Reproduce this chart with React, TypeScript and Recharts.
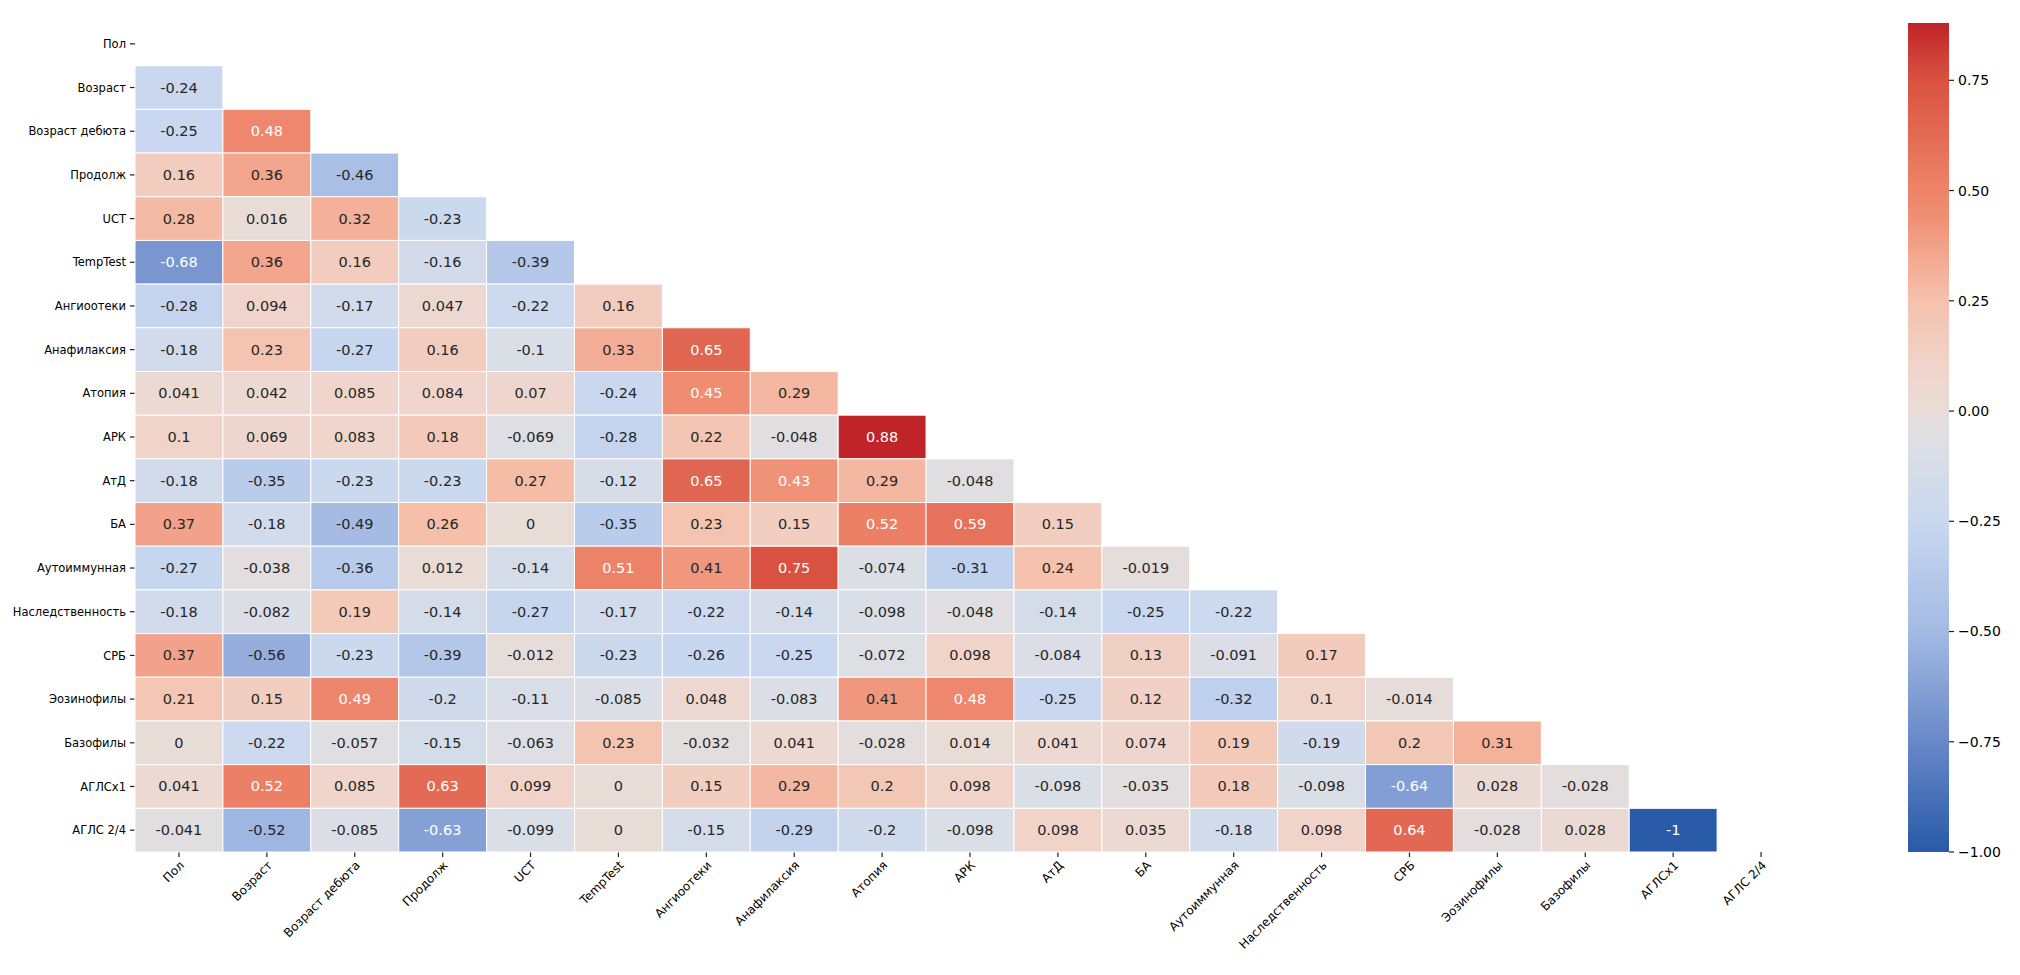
import React from 'react';
import { ScatterChart, Scatter, BarChart, Bar, XAxis, YAxis } from 'recharts';

// variable names, top to bottom / left to right
const LABELS = [
  'Пол', 'Возраст', 'Возраст дебюта', 'Продолж', 'UCT', 'TempTest', 'Ангиоотеки',
  'Анафилаксия', 'Атопия', 'АРК', 'АтД', 'БА', 'Аутоиммунная', 'Наследственность',
  'СРБ', 'Эозинофилы', 'Базофилы', 'АГЛСх1', 'АГЛС 2/4',
];

// lower triangle of the correlation matrix, row by row (diagonal masked)
const CORR: number[][] = [
  [],
  [-0.24],
  [-0.25, 0.48],
  [0.16, 0.36, -0.46],
  [0.28, 0.016, 0.32, -0.23],
  [-0.68, 0.36, 0.16, -0.16, -0.39],
  [-0.28, 0.094, -0.17, 0.047, -0.22, 0.16],
  [-0.18, 0.23, -0.27, 0.16, -0.1, 0.33, 0.65],
  [0.041, 0.042, 0.085, 0.084, 0.07, -0.24, 0.45, 0.29],
  [0.1, 0.069, 0.083, 0.18, -0.069, -0.28, 0.22, -0.048, 0.88],
  [-0.18, -0.35, -0.23, -0.23, 0.27, -0.12, 0.65, 0.43, 0.29, -0.048],
  [0.37, -0.18, -0.49, 0.26, 0, -0.35, 0.23, 0.15, 0.52, 0.59, 0.15],
  [-0.27, -0.038, -0.36, 0.012, -0.14, 0.51, 0.41, 0.75, -0.074, -0.31, 0.24, -0.019],
  [-0.18, -0.082, 0.19, -0.14, -0.27, -0.17, -0.22, -0.14, -0.098, -0.048, -0.14, -0.25, -0.22],
  [0.37, -0.56, -0.23, -0.39, -0.012, -0.23, -0.26, -0.25, -0.072, 0.098, -0.084, 0.13, -0.091, 0.17],
  [0.21, 0.15, 0.49, -0.2, -0.11, -0.085, 0.048, -0.083, 0.41, 0.48, -0.25, 0.12, -0.32, 0.1, -0.014],
  [0, -0.22, -0.057, -0.15, -0.063, 0.23, -0.032, 0.041, -0.028, 0.014, 0.041, 0.074, 0.19, -0.19, 0.2, 0.31],
  [0.041, 0.52, 0.085, 0.63, 0.099, 0, 0.15, 0.29, 0.2, 0.098, -0.098, -0.035, 0.18, -0.098, -0.64, 0.028, -0.028],
  [-0.041, -0.52, -0.085, -0.63, -0.099, 0, -0.15, -0.29, -0.2, -0.098, 0.098, 0.035, -0.18, 0.098, 0.64, -0.028, 0.028, -1],
];

const CBAR_TICKS = [-1, -0.75, -0.5, -0.25, 0, 0.25, 0.5, 0.75];

// colour stops (value, rgb)
const STOP_VALUES = [-1, -0.75, -0.5, -0.25, -0.06, 0, 0.1, 0.25, 0.35, 0.45, 0.5, 0.75, 0.88];
const STOP_COLORS: [number, number, number][] = [
  [40, 90, 168], [104, 136, 200], [163, 186, 228], [201, 216, 240], [222, 223, 228],
  [232, 220, 215], [240, 212, 202], [245, 193, 172], [243, 168, 144], [239, 140, 114],
  [237, 132, 106], [217, 82, 65], [192, 36, 41],
];

const N = LABELS.length;
const FONT = '"DejaVu Sans", sans-serif';

const PLOT_LEFT = 135;
const PLOT_TOP = 22;
const PLOT_RIGHT = 1805;
const PLOT_BOTTOM = 852;
const MAIN_W = 1860;
const MAIN_H = 975;
const CELL_W = (PLOT_RIGHT - PLOT_LEFT) / N;
const CELL_H = (PLOT_BOTTOM - PLOT_TOP) / N;

const allValues = CORR.flat();
const VMIN = Math.min(...allValues);
const VMAX = Math.max(...allValues);

const cells = CORR.flatMap((row, r) => row.map((v, c) => ({ x: c + 0.5, y: r + 0.5, v })));
const centers = LABELS.map((_, i) => i + 0.5);

function rgbAt(v: number): [number, number, number] {
  if (v <= STOP_VALUES[0]) return STOP_COLORS[0];
  for (let i = 1; i < STOP_VALUES.length; i++) {
    if (v <= STOP_VALUES[i]) {
      const t = (v - STOP_VALUES[i - 1]) / (STOP_VALUES[i] - STOP_VALUES[i - 1]);
      const a = STOP_COLORS[i - 1];
      const b = STOP_COLORS[i];
      return [0, 1, 2].map(k => Math.round(a[k] + (b[k] - a[k]) * t)) as [number, number, number];
    }
  }
  return STOP_COLORS[STOP_COLORS.length - 1];
}

const toCss = (c: [number, number, number]) => `rgb(${c[0]},${c[1]},${c[2]})`;

// same rule seaborn uses for annotation colour
function luminance(c: [number, number, number]) {
  const lin = c.map(x => {
    const s = x / 255;
    return s <= 0.03928 ? s / 12.92 : Math.pow((s + 0.055) / 1.055, 2.4);
  });
  return 0.2126 * lin[0] + 0.7152 * lin[1] + 0.0722 * lin[2];
}

const CellShape = (props: any) => {
  const { cx, cy, payload } = props;
  const rgb = rgbAt(payload.v);
  const textColor = luminance(rgb) > 0.408 ? '#262626' : '#ffffff';
  return (
    <g>
      <rect
        x={cx - CELL_W / 2}
        y={cy - CELL_H / 2}
        width={CELL_W}
        height={CELL_H}
        fill={toCss(rgb)}
        stroke="#ffffff"
        strokeWidth={1}
      />
      <text
        x={cx}
        y={cy}
        textAnchor="middle"
        dominantBaseline="central"
        fontSize={14.5}
        fontFamily={FONT}
        fill={textColor}
      >
        {String(payload.v)}
      </text>
    </g>
  );
};

const XTick = (props: any) => {
  const { x, y, payload } = props;
  const label = LABELS[Math.round(payload.value - 0.5)];
  return (
    <g transform={`translate(${x + 6},${y + 7})`}>
      <text
        textAnchor="end"
        transform="rotate(-45)"
        fontSize={12}
        fontFamily={FONT}
        fill="#000"
      >
        {label}
      </text>
    </g>
  );
};

const HeatMap = () => (
  <ScatterChart
    width={MAIN_W}
    height={MAIN_H}
    margin={{ top: PLOT_TOP, right: MAIN_W - PLOT_RIGHT, bottom: 0, left: 0 }}
  >
    <XAxis
      type="number"
      dataKey="x"
      domain={[0, N]}
      ticks={centers}
      interval={0}
      height={MAIN_H - PLOT_BOTTOM}
      axisLine={false}
      tickSize={5}
      tickLine={{ stroke: '#222', strokeWidth: 1.2 }}
      tick={<XTick />}
    />
    <YAxis
      type="number"
      dataKey="y"
      domain={[0, N]}
      reversed
      ticks={centers}
      interval={0}
      width={PLOT_LEFT}
      axisLine={false}
      tickSize={5}
      tickMargin={4}
      tickLine={{ stroke: '#222', strokeWidth: 1.2 }}
      tickFormatter={(v: number) => LABELS[Math.round(v - 0.5)]}
      tick={{ fontSize: 11.5, fill: '#000', fontFamily: FONT }}
    />
    <Scatter data={cells} shape={<CellShape />} isAnimationActive={false} />
  </ScatterChart>
);

const CBAR_LEFT = 1908;
const CBAR_W = 41;
const CBAR_CHART_W = 112;
const CBAR_TOP = 23;
const CBAR_BOTTOM = 852;

const cbarData = [{ name: 'cbar', range: [VMIN, VMAX] }];

const ColorBar = () => (
  <BarChart
    width={CBAR_CHART_W}
    height={MAIN_H}
    data={cbarData}
    margin={{ top: CBAR_TOP, right: 0, bottom: MAIN_H - CBAR_BOTTOM, left: 0 }}
    barCategoryGap={0}
  >
    <defs>
      <linearGradient id="cbarGrad" x1="0" y1="0" x2="0" y2="1">
        <stop offset={0} stopColor={toCss(rgbAt(VMAX))} />
        {STOP_VALUES.filter(v => v <= VMAX).map((v, i) => (
          <stop
            key={i}
            offset={(VMAX - v) / (VMAX - VMIN)}
            stopColor={toCss(STOP_COLORS[i])}
          />
        )).reverse()}
      </linearGradient>
    </defs>
    <XAxis dataKey="name" hide />
    <YAxis
      type="number"
      orientation="right"
      domain={[VMIN, VMAX]}
      ticks={CBAR_TICKS}
      interval={0}
      width={CBAR_CHART_W - CBAR_W}
      axisLine={false}
      tickSize={5}
      tickMargin={4}
      tickLine={{ stroke: '#222', strokeWidth: 1.2 }}
      tickFormatter={(v: number) => v.toFixed(2).replace('-', '\u2212')}
      tick={{ fontSize: 14, fill: '#000', fontFamily: FONT }}
    />
    <Bar dataKey="range" fill="url(#cbarGrad)" isAnimationActive={false} />
  </BarChart>
);

export default function App() {
  return (
    <div style={{ position: 'absolute', left: 0, top: 0, width: 2020, height: 975, background: '#fff' }}>
      <div style={{ position: 'absolute', left: 0, top: 0 }}>
        <HeatMap />
      </div>
      <div style={{ position: 'absolute', left: CBAR_LEFT, top: 0 }}>
        <ColorBar />
      </div>
    </div>
  );
}
